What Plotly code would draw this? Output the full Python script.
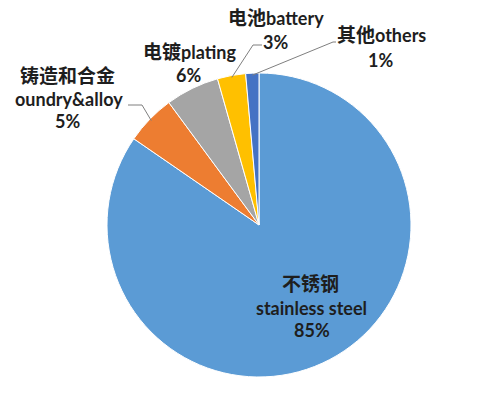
import math
import plotly.graph_objects as go

# ---- data ----
labels_cn = ["不锈钢", "铸造和合金", "电镀", "电池", "其他"]
labels_en = ["stainless steel", "oundry&alloy", "plating", "battery", "others"]
values = [84.6, 5.3, 5.7, 3.0, 1.4]
colors = ["#5B9BD5", "#ED7D31", "#A5A5A5", "#FFC000", "#4472C4"]

W, H = 486, 396
CX, CY, R = 259, 225, 152


def px(x):
    return x / W


def py(y):
    return 1 - y / H


fig = go.Figure(go.Pie(
    labels=[c + e for c, e in zip(labels_cn, labels_en)],
    values=values,
    sort=False,
    direction="clockwise",
    rotation=0,
    textinfo="none",
    marker=dict(colors=colors, line=dict(color="white", width=1)),
    domain=dict(x=[px(CX - R), px(CX + R)], y=[py(CY + R), py(CY - R)]),
    showlegend=False,
))

total = sum(values)
pcts = [f"{round(v / total * 100)}%" for v in values]

# slice mid angles (clockwise from 12 o'clock)
mids = []
cum = 0
for v in values:
    mids.append((cum + v / 2) / total * 360)
    cum += v


def edge(i, r=R - 2):
    a = math.radians(mids[i])
    return CX + r * math.sin(a), CY - r * math.cos(a)


FONT = "Lato, 'Noto Sans CJK SC', sans-serif"
TXT = "#1E1E1E"
CJK = 19
LAT = 18


def cj(s):
    return f"<span style='font-size:{CJK}px'>{s}</span>"


annos = []


def add(text, x, y, size=LAT):
    annos.append(dict(text=f"<b>{text}</b>", x=px(x), y=py(y), xref="paper", yref="paper",
                      showarrow=False, xanchor="center", yanchor="middle",
                      font=dict(family=FONT, size=size, color=TXT)))


# stainless steel (inside)
add(cj(labels_cn[0]), 310, 283)
add(labels_en[0], 311, 308)
add(pcts[0], 312, 330)
# foundry
add(cj(labels_cn[1]), 67, 75)
add(labels_en[1], 69, 99)
add(pcts[1], 67, 121)
# plating
add(cj(labels_cn[2]) + labels_en[2], 189, 51)
add(pcts[2], 188, 75)
# battery
add(cj(labels_cn[3]) + labels_en[3], 276, 17)
add(pcts[3], 275, 42)
# others
add(cj(labels_cn[4]) + labels_en[4], 381, 35)
add(pcts[4], 380, 60)

shapes = []


def leader(i, pts):
    sx, sy = edge(i)
    path = f"M {px(sx)},{py(sy)}" + "".join(f" L {px(x)},{py(y)}" for x, y in pts)
    shapes.append(dict(type="path", path=path, xref="paper", yref="paper",
                       line=dict(color="#7F7F7F", width=1)))


leader(1, [(142, 105), (128, 105)])
leader(3, [(253, 45), (262, 45)])
leader(4, [(333, 42), (336, 42)])

fig.update_layout(
    width=W, height=H,
    margin=dict(l=0, r=0, t=0, b=0),
    paper_bgcolor="white", plot_bgcolor="white",
    annotations=annos, shapes=shapes,
)

fig.write_html("out.html")
